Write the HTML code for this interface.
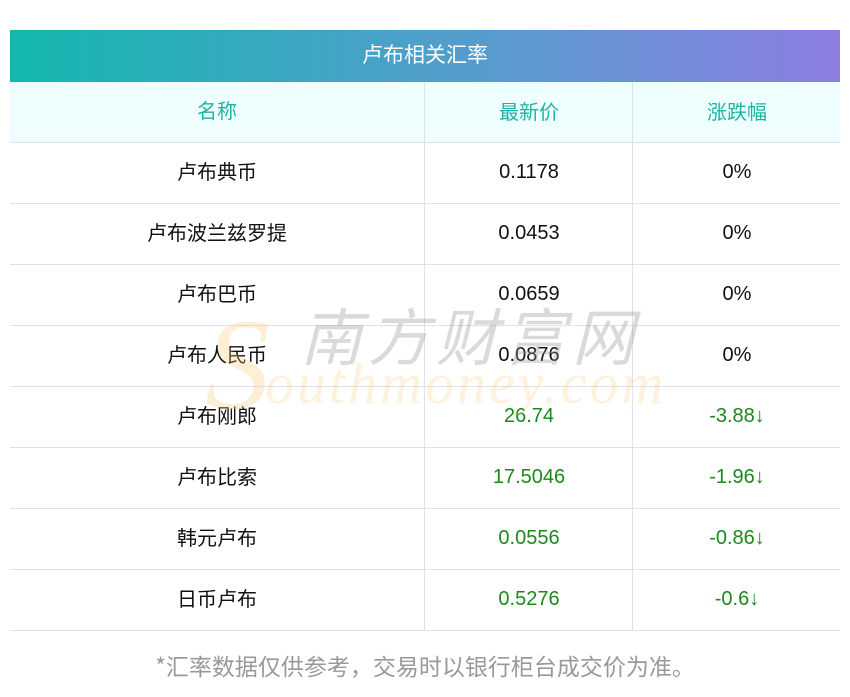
<!DOCTYPE html>
<html><head><meta charset="utf-8"><style>
body{margin:0;width:850px;height:697px;background:#fff;position:relative;overflow:hidden;font-family:"Liberation Sans","Noto Sans CJK SC",sans-serif;}
.hdr{position:absolute;left:10px;top:30px;width:830px;height:52px;background:linear-gradient(90deg,#13b8ad,#5a9ad0 60%,#8c7de0);color:#fff;font-size:21px;text-align:center;line-height:48px;font-family:"Noto Sans CJK SC",sans-serif;}
.row{position:absolute;left:10px;width:830px;height:61px;border-bottom:1px solid #dfe1ea;box-sizing:border-box;}
.row div{position:absolute;top:0;height:60px;line-height:56px;text-align:center;font-size:20px;color:#111;}
.a{left:0;width:414px;font-family:"Noto Sans CJK SC",sans-serif;}
.b{left:414px;width:208px;border-left:1px solid #dfe1ea;line-height:58px!important;}
.d{left:622px;width:208px;border-left:1px solid #dfe1ea;line-height:58px!important;}
.h{background:#effefe;}
.h div{color:#1fb3a6!important;font-family:"Noto Sans CJK SC",sans-serif;}
.row div.g{color:#1a8a1a;}
.wm1{position:absolute;left:300px;top:288px;font-size:62px;color:rgba(150,150,150,0.35);letter-spacing:6px;font-style:italic;}
.wm2{position:absolute;left:265px;top:350px;font-size:58px;color:rgba(250,200,120,0.25);font-family:"Liberation Serif",serif;font-style:italic;letter-spacing:3px;}
.wms{position:absolute;left:205px;top:290px;font-size:130px;color:rgba(250,200,120,0.3);font-family:"Liberation Serif",serif;font-style:italic;}
.foot{position:absolute;left:0;width:850px;top:648px;text-align:center;font-size:23px;color:#999;font-family:"Noto Sans CJK SC",sans-serif;}
</style></head><body>
<div class="hdr">卢布相关汇率</div>
<div class="row h" style="top:82px"><div class="a">名称</div><div class="b">最新价</div><div class="d">涨跌幅</div></div>
<div class="row" style="top:143px"><div class="a">卢布典币</div><div class="b">0.1178</div><div class="d">0%</div></div>
<div class="row" style="top:204px"><div class="a">卢布波兰兹罗提</div><div class="b">0.0453</div><div class="d">0%</div></div>
<div class="row" style="top:265px"><div class="a">卢布巴币</div><div class="b">0.0659</div><div class="d">0%</div></div>
<div class="row" style="top:326px"><div class="a">卢布人民币</div><div class="b">0.0876</div><div class="d">0%</div></div>
<div class="row" style="top:387px"><div class="a">卢布刚郎</div><div class="b g">26.74</div><div class="d g">-3.88↓</div></div>
<div class="row" style="top:448px"><div class="a">卢布比索</div><div class="b g">17.5046</div><div class="d g">-1.96↓</div></div>
<div class="row" style="top:509px"><div class="a">韩元卢布</div><div class="b g">0.0556</div><div class="d g">-0.86↓</div></div>
<div class="row" style="top:570px"><div class="a">日币卢布</div><div class="b g">0.5276</div><div class="d g">-0.6↓</div></div>
<div class="wms">S</div>
<div class="wm1">南方财富网</div>
<div class="wm2">outhmoney.com</div>
<div class="foot">*汇率数据仅供参考，交易时以银行柜台成交价为准。</div>
</body></html>
